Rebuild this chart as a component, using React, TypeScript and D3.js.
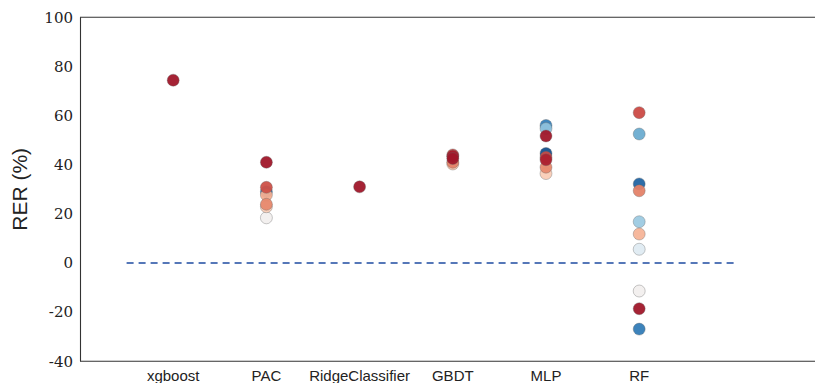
import React from "react";
import * as d3 from "d3";

const categories = ["xgboost", "PAC", "RidgeClassifier", "GBDT", "MLP", "RF"];
const yTicks = [-40, -20, 0, 20, 40, 60, 80, 100];

// values (RER %) and colour tone (0 = dark red, 1 = dark blue on RdBu) per model, in draw order
const xgboostRER = [74.4];
const xgboostTone = [0.08];
const pacRER = [29, 18.4, 22.9, 27.7, 23.9, 30.8, 41];
const pacTone = [0.88, 0.5, 0.38, 0.32, 0.26, 0.18, 0.08];
const ridgeRER = [31];
const ridgeTone = [0.08];
const gbdtRER = [40.3, 41, 44, 43.5, 42.5];
const gbdtTone = [0.36, 0.25, 0.16, 0.09, 0.08];
const mlpRER = [56, 54.7, 51.7, 44.6, 36.4, 39, 43, 42];
const mlpTone = [0.84, 0.7, 0.08, 0.94, 0.38, 0.26, 0.17, 0.1];
const rfRER = [61.2, 52.5, 32.2, 29.4, 16.8, 11.8, 5.6, -11.4, -18.6, -26.9];
const rfTone = [0.17, 0.75, 0.9, 0.25, 0.68, 0.33, 0.56, 0.5, 0.08, 0.85];

const seriesRER = [xgboostRER, pacRER, ridgeRER, gbdtRER, mlpRER, rfRER];
const seriesTone = [xgboostTone, pacTone, ridgeTone, gbdtTone, mlpTone, rfTone];

const W = 815;
const H = 383;
const SERIF = "'DejaVu Serif', 'Liberation Serif', serif";
const SANS = "'Liberation Sans', Arial, Helvetica, sans-serif";

export default function App() {
  const x = d3.scaleLinear().domain([-1, 7]).range([80, 825.6]);
  const y = d3.scaleLinear().domain([-40, 100]).range([361.3, 17.3]);

  const points: { cx: number; cy: number; fill: string; key: string }[] = [];
  seriesRER.forEach((vals, i) => {
    vals.forEach((v, j) => {
      points.push({
        cx: x(i),
        cy: y(v),
        fill: d3.interpolateRdBu(seriesTone[i][j]),
        key: `${i}-${j}`,
      });
    });
  });

  return (
    <svg
      width={W}
      height={H}
      style={{ position: "absolute", left: 0, top: 0, background: "#fff" }}
    >
      <line x1={80} x2={W} y1={y(100)} y2={y(100)} stroke="#333" strokeWidth={1.1} />
      <line x1={80} x2={W} y1={y(-40)} y2={y(-40)} stroke="#333" strokeWidth={1.1} />
      <line x1={80.5} x2={80.5} y1={y(100)} y2={y(-40)} stroke="#333" strokeWidth={1.1} />

      {yTicks.map((t) => (
        <text
          key={t}
          x={73}
          y={y(t)}
          dy="0.35em"
          textAnchor="end"
          fontFamily={SERIF}
          fontSize={15}
          fill="#222"
        >
          {t}
        </text>
      ))}

      <text
        transform={`translate(27, ${y(30)}) rotate(-90)`}
        textAnchor="middle"
        fontFamily={SANS}
        fontSize={21}
        fill="#222"
      >
        RER (%)
      </text>

      {categories.map((c, i) => (
        <text
          key={c}
          x={x(i)}
          y={381}
          textAnchor="middle"
          fontFamily={SANS}
          fontSize={15}
          fill="#222"
        >
          {c}
        </text>
      ))}

      <line
        x1={x(-0.5)}
        x2={x(6.03)}
        y1={y(0)}
        y2={y(0)}
        stroke="#5577b8"
        strokeWidth={1.8}
        strokeDasharray="7,5"
      />

      {points.map((p) => (
        <circle
          key={p.key}
          cx={p.cx}
          cy={p.cy}
          r={6}
          fill={p.fill}
          fillOpacity={0.95}
          stroke="#666"
          strokeOpacity={0.6}
          strokeWidth={0.6}
        />
      ))}
    </svg>
  );
}
